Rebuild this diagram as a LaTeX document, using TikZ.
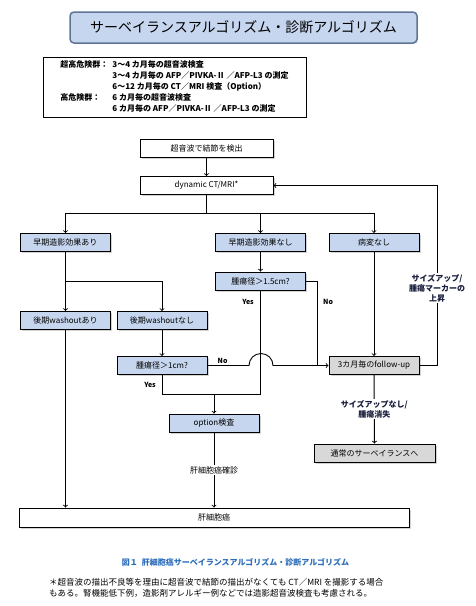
\documentclass[tikz,border=0pt]{standalone}
\usepackage{fontspec}
\usepackage{xcolor}
\usepackage{tikz}
\usetikzlibrary{shapes,arrows,positioning,shadows}

\newfontfamily\jpfont{Noto Sans CJK JP}

\definecolor{boxblue}{RGB}{198,214,238}
\definecolor{boxgray}{RGB}{216,216,216}
\definecolor{titleline}{RGB}{96,116,150}
\definecolor{capblue}{RGB}{46,110,185}
\definecolor{notenavy}{RGB}{25,30,60}

\tikzset{
    flowbox/.style={
        draw,
        line width=1pt,
        fill=white,
        minimum width=90pt,
        minimum height=18pt,
        inner sep=0pt,
        font=\jpfont\fontsize{8}{9}\selectfont,
        drop shadow={shadow xshift=1.5pt, shadow yshift=-1.5pt, opacity=0.35}
    },
    bluebox/.style={flowbox, fill=boxblue},
    graybox/.style={flowbox, fill=boxgray},
    flowline/.style={line width=0.9pt},
    yesno/.style={inner sep=0pt, font=\jpfont\bfseries\fontsize{7}{8}\selectfont},
    midnote/.style={
        fill=white,
        inner sep=1pt,
        align=center,
        text=notenavy,
        font=\jpfont\bfseries\fontsize{8}{10}\selectfont
    }
}

\begin{document}
\begin{tikzpicture}[x=1pt,y=-1pt]
                \useasboundingbox (0,0) rectangle (475,606);

                \node[
                    draw=titleline,
                    line width=1.5pt,
                    rounded corners=4pt,
                    fill=boxblue,
                    minimum width=347pt,
                    minimum height=31pt,
                    font=\jpfont\fontsize{14}{16}\selectfont,
                    drop shadow={shadow xshift=1pt, shadow yshift=-1pt, opacity=0.25}
                    ] (title) at (243.5,27.5) {サーベイランスアルゴリズム・診断アルゴリズム};

                \node[
                    draw,
                    line width=1pt,
                    minimum width=263pt,
                    minimum height=60pt,
                    inner sep=0pt,
                    font=\jpfont\bfseries\fontsize{8}{11}\selectfont
                    ] (risk) at (174.5,87) {\begin{tabular}{@{}l@{\hspace{4pt}}l@{}}
                    超高危険群： & 3〜4 カ月毎の超音波検査\\
                    & 3〜4 カ月毎の AFP／PIVKA-Ⅱ ／AFP-L3 の測定\\
                    & 6〜12 カ月毎の CT／MRI 検査（Option）\\
                    高危険群： & 6 カ月毎の超音波検査\\
                    & 6 カ月毎の AFP／PIVKA-Ⅱ ／AFP-L3 の測定
                    \end{tabular}};

                \node[flowbox, minimum width=133pt] (echo) at (206.5,148) {超音波で結節を検出};
                \node[flowbox, minimum width=133pt] (ctmri) at (206.5,185.5) {dynamic CT/MRI*};

                \node[bluebox] (early) at (65.5,242.5) {早期造影効果あり};
                \node[bluebox] (noearly) at (260.5,242.5) {早期造影効果なし};
                \node[bluebox] (nolesion) at (374,242.5) {病変なし};

                \node[bluebox] (size15) at (260.5,281) {腫瘍径＞1.5cm?};

                \node[bluebox] (washout) at (65.5,320.5) {後期washoutあり};
                \node[bluebox] (nowashout) at (162,320.5) {後期washoutなし};

                \node[bluebox] (size1) at (162,365.5) {腫瘍径＞1cm?};
                \node[graybox] (followup) at (374,365.5) {3カ月毎のfollow-up};

                \node[bluebox] (option) at (214,423) {option検査};
                \node[graybox, minimum width=121pt] (usual) at (374.5,453) {通常のサーベイランスへ};

                \node[flowbox, minimum width=390pt, minimum height=19pt] (hcc) at (214,517.5) {肝細胞癌};

                \coordinate (split) at (206.5,213);
                \coordinate (lsplit) at (65.5,281);
                \coordinate (yesjoin) at (214,394);
                \coordinate (nojoin) at (317,365.5);
                \coordinate (bump) at (261,365.5);
                \coordinate (loopcorner) at (437,365.5);

                \draw[flowline, ->] (echo) to (ctmri);

                \draw[flowline] (ctmri) to (split);
                \draw[flowline, ->] (split) -| (early);
                \draw[flowline, ->] (split) -| (noearly);
                \draw[flowline, ->] (split) -| (nolesion);

                \draw[flowline, ->] (noearly) to (size15);

                \draw[flowline, ->] (early) to (washout);
                \draw[flowline, ->] (lsplit) -| (nowashout);
                \draw[flowline, ->] (nowashout) to (size1);

                \draw[flowline] (size1) |- (yesjoin);
                \draw[flowline] (size15) |- (yesjoin);
                \draw[flowline, ->] (yesjoin) to (option);

                \draw[flowline] (size1.east) -- ([xshift=-12pt]bump)
                    arc[start angle=180, end angle=0, radius=12pt] -- (nojoin);
                \draw[flowline] (size15) -| (nojoin);
                \draw[flowline, ->] (nojoin) to (followup);

                \draw[flowline, ->] (nolesion) to (followup);

                \node[yesno, below left=7.5pt and 6pt of size1.south] (yes1) {Yes};
                \node[yesno, above right=2pt and 10pt of size1.east] (no1) {No};
                \node[yesno, below left=9pt and 6.5pt of size15.south] (yes15) {Yes};
                \node[yesno, below right=18pt and 17pt of size15.east] (no15) {No};

                \draw[flowline, ->] (followup) to node[midnote] {サイズアップなし/\\腫瘍消失} (usual);

                \draw[flowline] (followup) to (loopcorner);
                \draw[flowline, ->] (loopcorner) |- node[midnote, pos=0.215] {サイズアップ/\\腫瘍マーカーの\\上昇} (ctmri);

                \draw[flowline, ->] (option) to node[midnote, font=\jpfont\fontsize{8}{10}\selectfont, text=black] {肝細胞癌確診} (hcc);
                \draw[flowline, ->] (washout.south) to (washout.south |- hcc.north);

                \node[
                    text=capblue,
                    font=\jpfont\bfseries\fontsize{8}{10}\selectfont
                    ] (caption) at (235.5,562) {図１\enspace 肝細胞癌サーベイランスアルゴリズム・診断アルゴリズム};

                \node[
                    anchor=north west,
                    align=left,
                    inner sep=0pt,
                    font=\jpfont\fontsize{8.5}{11}\selectfont
                    ] (footnote) at (49,578) {＊超音波の描出不良等を理由に超音波で結節の描出がなくても CT／MRI を撮影する場合\\もある。腎機能低下例，造影剤アレルギー例などでは造影超音波検査も考慮される。};

\end{tikzpicture}
\end{document}
